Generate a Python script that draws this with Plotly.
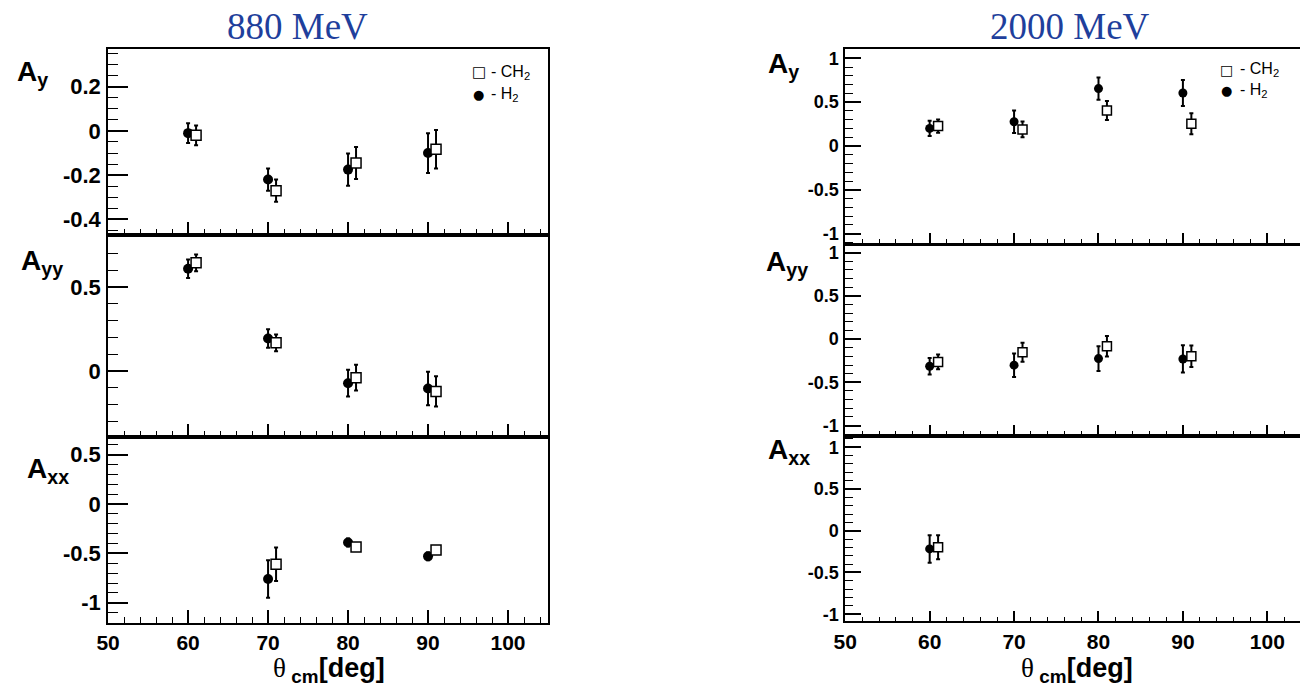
import plotly.graph_objects as go

# ---------------- data ----------------
theta_h2 = [60, 70, 80, 90]
theta_ch2 = [61, 71, 81, 91]

# 880 MeV
ay880_h2 = [-0.01, -0.22, -0.175, -0.10]
ay880_h2_err = [0.045, 0.05, 0.073, 0.09]
ay880_ch2 = [-0.02, -0.27, -0.145, -0.083]
ay880_ch2_err = [0.045, 0.05, 0.072, 0.087]

ayy880_h2 = [0.61, 0.194, -0.073, -0.105]
ayy880_h2_err = [0.055, 0.055, 0.08, 0.10]
ayy880_ch2 = [0.646, 0.168, -0.04, -0.122]
ayy880_ch2_err = [0.05, 0.05, 0.077, 0.09]

axx880_theta_h2 = [70, 80, 90]
axx880_theta_ch2 = [71, 81, 91]
axx880_h2 = [-0.76, -0.39, -0.53]
axx880_h2_err = [0.19, 0.04, 0.04]
axx880_ch2 = [-0.61, -0.436, -0.466]
axx880_ch2_err = [0.17, 0.04, 0.035]

# 2000 MeV
ay2000_h2 = [0.20, 0.276, 0.654, 0.604]
ay2000_h2_err = [0.087, 0.127, 0.128, 0.147]
ay2000_ch2 = [0.227, 0.189, 0.404, 0.253]
ay2000_ch2_err = [0.075, 0.09, 0.108, 0.12]

ayy2000_h2 = [-0.314, -0.302, -0.226, -0.23]
ayy2000_h2_err = [0.095, 0.136, 0.143, 0.157]
ayy2000_ch2 = [-0.264, -0.153, -0.084, -0.20]
ayy2000_ch2_err = [0.086, 0.11, 0.119, 0.124]

axx2000_theta_h2 = [60]
axx2000_theta_ch2 = [61]
axx2000_h2 = [-0.218]
axx2000_h2_err = [0.165]
axx2000_ch2 = [-0.198]
axx2000_ch2_err = [0.145]

# tick labels
x_ticks = [50, 60, 70, 80, 90, 100]
x_ticktext = ["50", "60", "70", "80", "90", "100"]
y_ticks_ay880 = [-0.4, -0.2, 0, 0.2]
y_ticktext_ay880 = ["-0.4", "-0.2", "0", "0.2"]
y_ticks_ayy880 = [0, 0.5]
y_ticktext_ayy880 = ["0", "0.5"]
y_ticks_axx880 = [-1, -0.5, 0, 0.5]
y_ticktext_axx880 = ["-1", "-0.5", "0", "0.5"]
y_ticks_2000 = [-1, -0.5, 0, 0.5, 1]
y_ticktext_2000 = ["-1", "-0.5", "0", "0.5", "1"]

titles = ["880 MeV", "2000 MeV"]
panel_labels = ["A<sub>y</sub>", "A<sub>yy</sub>", "A<sub>xx</sub>"]
legend_symbols = ["\u25a1", "\u25cf"]
legend_texts = ["- CH<sub>2</sub>", "- H<sub>2</sub>"]

# ---------------- layout helpers ----------------
W, H = 1300, 693


def fx(px):
    return px / W


def fy(py):
    return 1 - py / H


def bold(labels):
    return [f"<b>{t}</b>" for t in labels]


FONT = "Liberation Sans"

fig = go.Figure()

# panel geometry (pixels) and axis ranges
panels = [
    # left column (880 MeV)
    dict(x0=97, x1=541, y0=47, y1=235, xr=[50, 105], yr=[-0.472, 0.372],
         yt=y_ticks_ay880, ytt=y_ticktext_ay880, ymin=0.05, ymin0=-0.45,
         ylen=20, ymlen=10, xlen=13, xmlen=6, labels=False, mirror_y=True,
         yfont=22, xfont=21),
    dict(x0=97, x1=541, y0=235, y1=438.3, xr=[50, 105], yr=[-0.395, 0.81],
         yt=y_ticks_ayy880, ytt=y_ticktext_ayy880, ymin=0.1, ymin0=0,
         ylen=20, ymlen=10, xlen=13, xmlen=6, labels=False, mirror_y=True,
         yfont=22, xfont=21),
    dict(x0=97, x1=541, y0=438.3, y1=625.5, xr=[50, 105], yr=[-1.205, 0.678],
         yt=y_ticks_axx880, ytt=y_ticktext_axx880, ymin=0.1, ymin0=0,
         ylen=20, ymlen=10, xlen=13, xmlen=6, labels=True, mirror_y=True,
         yfont=22, xfont=21),
    # right column (2000 MeV)
    dict(x0=841, x1=1300, y0=47.5, y1=243.3, xr=[50, 103.87], yr=[-1.113, 1.104],
         yt=y_ticks_2000, ytt=y_ticktext_2000, ymin=0.1, ymin0=0,
         ylen=16, ymlen=8, xlen=11, xmlen=5, labels=False, mirror_y=False,
         yfont=18, xfont=21),
    dict(x0=841, x1=1300, y0=245, y1=436.7, xr=[50, 103.87], yr=[-1.115, 1.084],
         yt=y_ticks_2000, ytt=y_ticktext_2000, ymin=0.1, ymin0=0,
         ylen=16, ymlen=8, xlen=11, xmlen=5, labels=False, mirror_y=False,
         yfont=18, xfont=21),
    dict(x0=841, x1=1300, y0=437.5, y1=624, xr=[50, 103.87], yr=[-1.087, 1.13],
         yt=y_ticks_2000, ytt=y_ticktext_2000, ymin=0.1, ymin0=0,
         ylen=16, ymlen=8, xlen=11, xmlen=5, labels=True, mirror_y=False,
         yfont=18, xfont=21),
]

series = [
    (theta_h2, ay880_h2, ay880_h2_err, theta_ch2, ay880_ch2, ay880_ch2_err),
    (theta_h2, ayy880_h2, ayy880_h2_err, theta_ch2, ayy880_ch2, ayy880_ch2_err),
    (axx880_theta_h2, axx880_h2, axx880_h2_err, axx880_theta_ch2, axx880_ch2, axx880_ch2_err),
    (theta_h2, ay2000_h2, ay2000_h2_err, theta_ch2, ay2000_ch2, ay2000_ch2_err),
    (theta_h2, ayy2000_h2, ayy2000_h2_err, theta_ch2, ayy2000_ch2, ayy2000_ch2_err),
    (axx2000_theta_h2, axx2000_h2, axx2000_h2_err, axx2000_theta_ch2, axx2000_ch2, axx2000_ch2_err),
]

layout = {}
for i, (p, s) in enumerate(zip(panels, series), start=1):
    xa = "x" if i == 1 else f"x{i}"
    ya = "y" if i == 1 else f"y{i}"
    xh, yh, yhe, xc, yc, yce = s
    msize = 11 if i <= 3 else 10
    fig.add_trace(go.Scatter(
        x=xh, y=yh, mode="markers", xaxis=xa, yaxis=ya, showlegend=False,
        marker=dict(symbol="circle", size=msize - 1, color="black"),
        error_y=dict(type="data", array=yhe, color="black", thickness=2, width=2),
    ))
    fig.add_trace(go.Scatter(
        x=xc, y=yc, mode="markers", xaxis=xa, yaxis=ya, showlegend=False,
        marker=dict(symbol="square", size=msize - 1, color="white",
                    line=dict(color="black", width=1.5)),
        error_y=dict(type="data", array=yce, color="black", thickness=2, width=2),
    ))

    layout[f"xaxis{i}"] = dict(
        domain=[fx(p["x0"]), fx(p["x1"])], range=p["xr"], anchor=ya,
        showline=True, linecolor="black", linewidth=1.8, mirror=True,
        ticks="inside", ticklen=p["xlen"], tickwidth=1.5, tickcolor="black",
        tickvals=x_ticks, ticktext=bold(x_ticktext), showticklabels=p["labels"],
        tickfont=dict(family=FONT, size=p["xfont"], color="black"),
        minor=dict(ticks="inside", ticklen=p["xmlen"], dtick=2, tick0=50,
                   tickcolor="black", tickwidth=1.2, showgrid=False),
        showgrid=False, zeroline=False, fixedrange=True,
    )
    layout[f"yaxis{i}"] = dict(
        domain=[fy(p["y1"]), fy(p["y0"])], range=p["yr"], anchor=xa,
        showline=True, linecolor="black", linewidth=1.8, mirror=p["mirror_y"],
        ticks="inside", ticklen=p["ylen"], tickwidth=1.5, tickcolor="black",
        tickvals=p["yt"], ticktext=bold(p["ytt"]), ticklabelstandoff=1,
        tickfont=dict(family=FONT, size=p["yfont"], color="black"),
        minor=dict(ticks="inside", ticklen=p["ymlen"], dtick=p["ymin"], tick0=p["ymin0"],
                   tickcolor="black", tickwidth=1.2, showgrid=False),
        showgrid=False, zeroline=False, fixedrange=True,
    )

annotations = []

# column titles
for text, cx in zip(titles, [288, 1068]):
    annotations.append(dict(
        text=text, x=fx(cx), y=fy(25), xref="paper", yref="paper",
        xanchor="center", yanchor="middle", showarrow=False,
        font=dict(family="Liberation Serif", size=37, color="#1f3f9c"),
    ))

# panel y labels
label_pos = [(3, 72), (7, 262), (13, 472), (761, 64), (759, 263), (761, 453)]
for k, (lx, ly) in enumerate(label_pos):
    annotations.append(dict(
        text=f"<b>{panel_labels[k % 3]}</b>", x=fx(lx), y=fy(ly),
        xref="paper", yref="paper", xanchor="left", yanchor="middle",
        showarrow=False, font=dict(family=FONT, size=28, color="black"),
    ))

# x-axis titles
for cx in [320, 1075]:
    annotations.append(dict(
        text="<span style='font-family:Liberation Serif;font-weight:normal'>θ</span>"
             "<b>\u2009<sub>cm</sub>[deg]</b>",
        x=fx(cx), y=fy(673), xref="paper", yref="paper",
        xanchor="center", yanchor="middle", showarrow=False,
        font=dict(family=FONT, size=27, color="black"),
    ))

# legend boxes: symbol column and text column
legend_boxes = [
    dict(sym_x=471, txt_x=481, rows=(71, 93), sym_size=(15, 13), fs=16),
    dict(sym_x=1226, txt_x=1237, rows=(68, 89), sym_size=(14, 13), fs=16),
]
for box in legend_boxes:
    for sym, txt, ry, ss in zip(legend_symbols, legend_texts, box["rows"], box["sym_size"]):
        annotations.append(dict(
            text=sym, x=fx(box["sym_x"]), y=fy(ry), xref="paper", yref="paper",
            xanchor="center", yanchor="middle", showarrow=False,
            font=dict(family="DejaVu Sans", size=ss, color="black"),
        ))
        annotations.append(dict(
            text=txt, x=fx(box["txt_x"]), y=fy(ry), xref="paper", yref="paper",
            xanchor="left", yanchor="middle", showarrow=False,
            font=dict(family=FONT, size=box["fs"], color="black"),
        ))

fig.update_layout(
    width=W, height=H, margin=dict(l=0, r=0, t=0, b=0),
    paper_bgcolor="white", plot_bgcolor="white",
    annotations=annotations, showlegend=False, **layout,
)

fig.write_html("out.html", config={"displayModeBar": False})
